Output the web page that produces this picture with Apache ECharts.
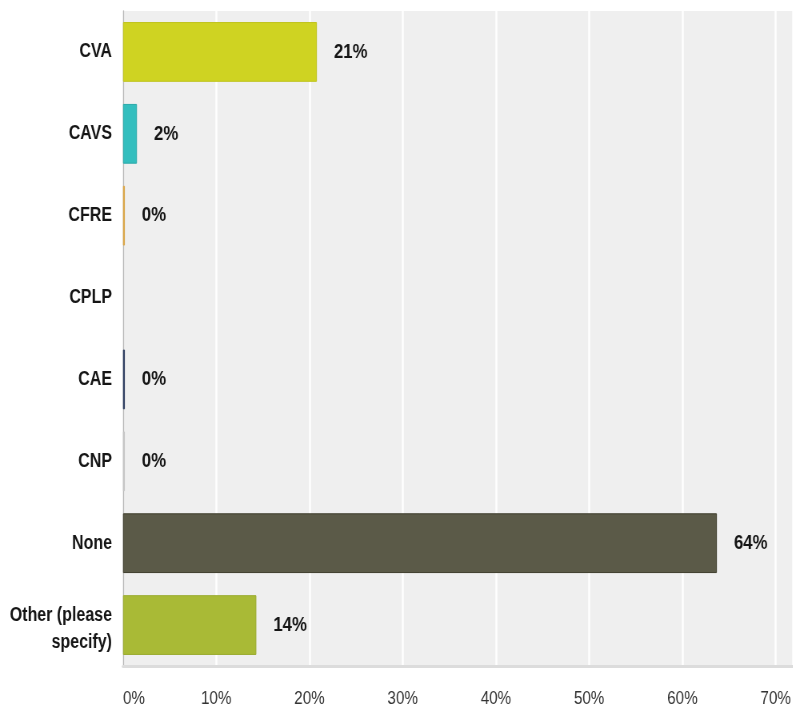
<!DOCTYPE html>
<html>
<head>
<meta charset="utf-8">
<script src="https://cdn.jsdelivr.net/npm/echarts@6/dist/echarts.min.js"></script>
<style>
  html, body { margin: 0; padding: 0; background: #fff; overflow: hidden; }
  #wrap { width: 793px; height: 709px; overflow: hidden; }
  /* condensed lettering: chart is drawn wide, then narrowed horizontally */
  #chart { height: 709px; transform-origin: 0 0; }
</style>
</head>
<body>
<div id="wrap"><div id="chart"></div></div>
<script>
// Survey answers, top to bottom
const categories = ['CVA', 'CAVS', 'CFRE', 'CPLP', 'CAE', 'CNP', 'None', 'Other (please\nspecify)'];
// Share of respondents, percent (CPLP had no responses)
const shares = [20.8, 1.5, 0.2, null, 0.2, 0.2, 63.7, 14.3];
const barColors = ['#cfd322', '#33bebe', '#e6b04c', '#cccccc', '#33456a', '#d2d2d2', '#5b5a48', '#a9ba36'];
const barBorders = ['#bfc31c', '#2aa9a9', '#d9a240', '#bbbbbb', '#26365a', '#c4c4c4', '#3e3d2c', '#9aab2e'];
const tickLabels = ['0%', '10%', '20%', '30%', '40%', '50%', '60%', '70%'];

const SX = 0.8;                  // horizontal narrowing factor
const W = 793 / SX;
const el = document.getElementById('chart');
el.style.width = W + 'px';
el.style.transform = 'scaleX(' + SX + ')';

const FONT = '"Liberation Sans", Arial, sans-serif';
const catText = { lineHeight: 27, fontSize: 20, fontWeight: 'bold', fontFamily: FONT, color: '#151515' };

const chart = echarts.init(el, null, { width: W, height: 709 });
chart.setOption({
  animation: false,
  grid: {
    left: 123 / SX, right: 0, top: 11, bottom: 43,
    containLabel: false,
    outerBoundsMode: 'none',
    show: true, backgroundColor: '#efefef', borderWidth: 0
  },
  xAxis: {
    type: 'value',
    min: 0,
    max: 71.86,
    interval: 10,
    axisLine: { show: true, lineStyle: { color: '#dcdcdc', width: 3 } },
    axisTick: { show: false },
    splitLine: { show: true, lineStyle: { color: '#ffffff', width: 2 / SX } },
    axisLabel: {
      margin: 23,
      color: '#333',
      fontFamily: FONT,
      fontSize: 19,
      alignMinLabel: 'left',
      showMaxLabel: false,
      formatter: v => {
        const i = Math.round(v / 10);
        return Math.abs(v - i * 10) < 1e-6 ? tickLabels[i] : '';
      }
    }
  },
  yAxis: {
    type: 'category',
    inverse: true,
    data: categories,
    axisLine: { show: true, lineStyle: { color: '#b8b8b8', width: 1.2 / SX } },
    axisTick: { show: false },
    splitLine: { show: false },
    axisLabel: {
      margin: 11 / SX,
      color: '#151515',
      fontFamily: FONT,
      fontSize: 20,
      fontWeight: 'bold',
      lineHeight: 27,
      align: 'right',
      // two-line answer: a thin spacer line above nudges the pair down
      formatter: v => {
        const lines = v.split('\n');
        if (lines.length === 1) return v;
        return '{gap| }\n' + lines.map(l => '{cat|' + l + '}').join('\n');
      },
      rich: {
        gap: { lineHeight: 7, fontSize: 1 },
        cat: catText
      }
    }
  },
  series: [{
    type: 'bar',
    barCategoryGap: '27%',
    data: shares.map((v, i) => ({
      value: v,
      itemStyle: { color: barColors[i], borderColor: barBorders[i], borderWidth: 1 }
    })),
    label: {
      show: true,
      position: 'right',
      distance: 17 / SX,
      color: '#151515',
      fontFamily: FONT,
      fontSize: 21,
      fontWeight: 'bold',
      formatter: p => (p.value == null ? '' : Math.round(p.value) + '%')
    }
  }]
});
</script>
</body>
</html>
